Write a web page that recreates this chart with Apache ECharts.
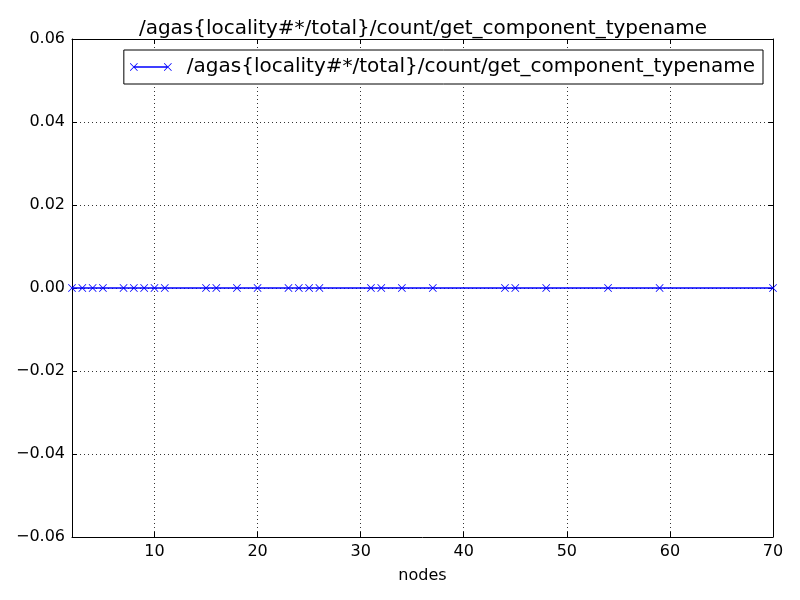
<!DOCTYPE html>
<html>
<head>
<meta charset="utf-8">
<script src="https://cdn.jsdelivr.net/npm/echarts@6/dist/echarts.min.js"></script>
<style>html,body{margin:0;padding:0;background:#fff}#c{width:800px;height:600px}</style>
</head>
<body>
<div id="c"></div>
<script>
const seriesName = '/agas{locality#*/total}/count/get_component_typename';
const nodes = [2, 3, 4, 5, 7, 8, 9, 10, 11, 15, 16, 18, 20, 23, 24, 25, 26, 31, 32, 34, 37, 44, 45, 48, 54, 59, 70];
const counts = [0, 0, 0, 0, 0, 0, 0, 0, 0, 0, 0, 0, 0, 0, 0, 0, 0, 0, 0, 0, 0, 0, 0, 0, 0, 0, 0];
const xLimits = [2, 70];
const yLimits = [-0.06, 0.06];
const yStep = 0.02;

const FONT = 'DejaVu Sans';
const X_PATH = 'path://M0 0.6 L0.6 0 L8 7.4 L7.4 8 Z M7.4 0 L8 0.6 L0.6 8 L0 7.4 Z';
const LEGEND_PATH = 'path://M0 0.6 L0.6 0 L8 7.4 L7.4 8 Z M7.4 0 L8 0.6 L0.6 8 L0 7.4 Z M4 3.3 L38 3.3 L38 4.7 L4 4.7 Z M34 0.6 L34.6 0 L42 7.4 L41.4 8 Z M41.4 0 L42 0.6 L34.6 8 L34 7.4 Z';

const chart = echarts.init(document.getElementById('c'), null, {renderer: 'canvas'});
const axisLineStyle = {show: true, onZero: false, lineStyle: {color: '#000', width: 1}};
const tickStyle = {show: true, inside: true, length: 5, lineStyle: {color: '#000', width: 1}};
const fmtY = v => {
  const s = (Math.abs(v) < 1e-9 ? 0 : v).toFixed(2);
  return s.replace('-', '\u2212');
};

chart.setOption({
  animation: false,
  backgroundColor: '#fff',
  title: {
    text: seriesName,
    left: 418, top: 14, textAlign: 'center',
    textStyle: {fontFamily: FONT, fontSize: 20, fontWeight: 'normal', color: '#000'}
  },
  legend: {
    data: [seriesName],
    right: 37, top: 50,
    icon: LEGEND_PATH,
    itemWidth: 42, itemHeight: 8,
    borderColor: '#000', borderWidth: 1, borderRadius: 0,
    padding: [7, 8, 7, 6],
    backgroundColor: '#fff',
    itemStyle: {borderWidth: 0},
    textStyle: {fontFamily: FONT, fontSize: 20, color: '#000', padding: [0, 0, 0, 10]}
  },
  grid: {left: 72, right: 27, top: 39, bottom: 63, containLabel: false},
  xAxis: [{
    type: 'value', position: 'bottom',
    min: xLimits[0], max: xLimits[1],
    name: 'nodes', nameLocation: 'middle', nameGap: 31,
    nameTextStyle: {fontFamily: FONT, fontSize: 16, color: '#000'},
    axisLine: axisLineStyle, axisTick: tickStyle,
    axisLabel: {fontFamily: FONT, fontSize: 16, color: '#000', margin: 7, showMinLabel: false},
    splitLine: {show: true, lineStyle: {color: '#000', width: 0.8, type: [1, 3]}}
  }, {
    type: 'value', position: 'top',
    min: xLimits[0], max: xLimits[1],
    axisLine: axisLineStyle, axisTick: tickStyle,
    axisLabel: {show: false}, splitLine: {show: false}
  }],
  yAxis: [{
    type: 'value', position: 'left',
    min: yLimits[0], max: yLimits[1], interval: yStep,
    axisLine: axisLineStyle, axisTick: tickStyle,
    axisLabel: {fontFamily: FONT, fontSize: 16, color: '#000', margin: 7, formatter: fmtY},
    splitLine: {show: true, lineStyle: {color: '#000', width: 0.8, type: [1, 3]}}
  }, {
    type: 'value', position: 'right',
    min: yLimits[0], max: yLimits[1], interval: yStep,
    axisLine: axisLineStyle, axisTick: tickStyle,
    axisLabel: {show: false}, splitLine: {show: false}
  }],
  series: [{
    name: seriesName,
    type: 'line',
    xAxisIndex: 0, yAxisIndex: 0,
    data: nodes.map((n, i) => [n, counts[i]]),
    symbol: X_PATH, symbolSize: 8, showAllSymbol: true,
    clip: true,
    itemStyle: {color: '#0000ff', borderWidth: 0},
    lineStyle: {color: '#0000ff', width: 1.4},
    emphasis: {disabled: true}
  }]
});
</script>
</body>
</html>
